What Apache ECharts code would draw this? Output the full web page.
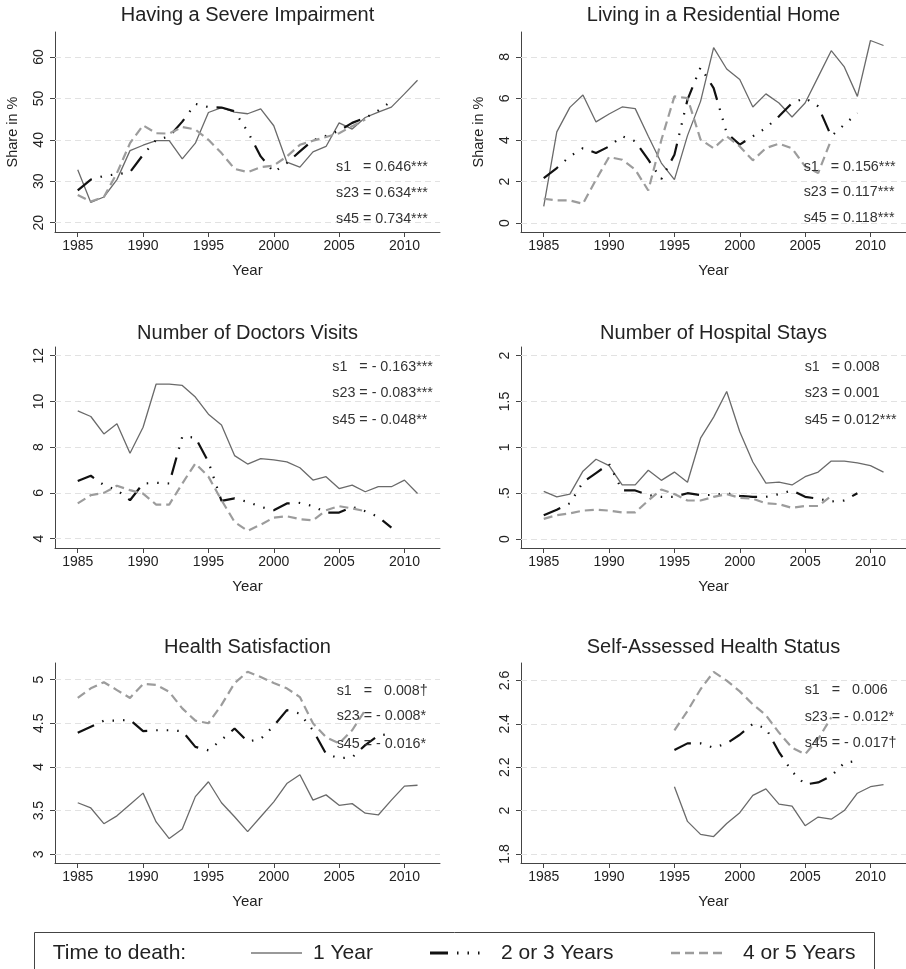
<!DOCTYPE html>
<html>
<head>
<meta charset="utf-8">
<script src="https://cdn.jsdelivr.net/npm/echarts@6/dist/echarts.min.js"></script>
<style>
  html, body { margin: 0; padding: 0; background: #fff; }
  #chart { width: 906px; height: 969px; }
</style>
</head>
<body>
<div id="chart"></div>
<script>
// ---- Data ---------------------------------------------------------------
const years = [1985, 1986, 1987, 1988, 1989, 1990, 1991, 1992, 1993, 1994, 1995, 1996, 1997, 1998,
               1999, 2000, 2001, 2002, 2003, 2004, 2005, 2006, 2007, 2008, 2009, 2010, 2011];
const yearsSAH = [1995, 1996, 1997, 1998, 1999, 2000, 2001, 2002, 2003, 2004, 2005, 2006, 2007,
                  2008, 2009, 2010, 2011];
const xTicks = [1985, 1990, 1995, 2000, 2005, 2010];

// Having a severe impairment (share in %)
const impair1  = [32.8, 24.9, 26.2, 30.4, 37.4, 38.7, 39.8, 39.8, 35.4, 39.2, 46.6, 47.8, 46.7, 46.3,
                  47.5, 43.4, 34.6, 33.4, 37.1, 38.4, 44.1, 42.6, 45.4, 46.7, 47.9, 51.1, 54.4];
const impair23 = [27.8, 30.4, 31.3, 31.7, 32.2, 36.4, 40.0, 40.8, 44.4, 48.7, 47.9, 47.8, 46.9, 42.0,
                  36.0, 32.2, 34.4, 37.2, 39.9, 41.0, 42.2, 44.1, 45.3, 47.1, 49.3];
const impair45 = [26.7, 25.1, 26.2, 32.0, 39.2, 43.5, 41.6, 41.5, 43.1, 42.5, 40.0, 36.8, 33.0, 32.2,
                  33.4, 33.8, 36.0, 38.8, 39.8, 40.7, 41.6, 43.3, 44.9];
const impairTicks = [20, 30, 40, 50, 60];
const impairNotes = ['s1   = 0.646***', 's23 = 0.634***', 's45 = 0.734***'];

// Living in a residential home (share in %)
const home1  = [0.8, 4.39, 5.57, 6.17, 4.87, 5.25, 5.59, 5.51, 4.18, 2.89, 2.09, 4.21, 5.86, 8.45,
                7.42, 6.91, 5.59, 6.22, 5.78, 5.11, 5.78, 7.04, 8.3, 7.52, 6.1, 8.79, 8.55];
const home23 = [2.17, 2.65, 3.21, 3.61, 3.37, 3.69, 4.18, 3.94, 3.05, 2.12, 3.29, 5.94, 7.5, 6.5,
                4.34, 3.78, 4.18, 4.58, 5.14, 5.78, 6.02, 5.62, 4.18, 4.74, 5.30];
const home45 = [1.17, 1.09, 1.09, 0.93, 2.09, 3.18, 3.05, 2.57, 1.57, 4.0, 6.1, 6.02, 4.02, 3.6,
                4.18, 3.69, 3.02, 3.61, 3.82, 3.6, 2.73, 2.41, 4.02];
const homeTicks = [0, 2, 4, 6, 8];
const homeNotes = ['s1   = 0.156***', 's23 = 0.117***', 's45 = 0.118***'];

// Number of doctors visits
const doc1  = [9.59, 9.34, 8.58, 9.02, 7.73, 8.87, 10.76, 10.76, 10.70, 10.19, 9.44, 8.97, 7.63, 7.26,
               7.5, 7.44, 7.36, 7.1, 6.56, 6.71, 6.19, 6.34, 6.05, 6.27, 6.27, 6.56, 5.97];
const doc23 = [6.52, 6.75, 6.34, 6.12, 5.68, 6.41, 6.44, 6.41, 8.46, 8.42, 7.36, 5.65, 5.76, 5.61,
               5.39, 5.24, 5.54, 5.56, 5.42, 5.14, 5.14, 5.39, 5.2, 4.95, 4.48];
const doc45 = [5.54, 5.90, 6.0, 6.31, 6.12, 5.97, 5.49, 5.49, 6.41, 7.29, 6.71, 5.68, 4.73, 4.34,
               4.61, 4.92, 4.98, 4.85, 4.8, 5.24, 5.42, 5.32, 5.2];
const docTicks = [4, 6, 8, 10, 12];
const docNotes = ['s1   = - 0.163***', 's23 = - 0.083***', 's45 = - 0.048**'];

// Number of hospital stays
const hosp1  = [0.52, 0.46, 0.49, 0.74, 0.87, 0.80, 0.59, 0.59, 0.75, 0.64, 0.73, 0.62, 1.10, 1.33,
                1.61, 1.17, 0.84, 0.61, 0.62, 0.59, 0.68, 0.73, 0.85, 0.85, 0.83, 0.80, 0.73];
const hosp23 = [0.26, 0.32, 0.39, 0.62, 0.72, 0.82, 0.53, 0.53, 0.48, 0.46, 0.46, 0.50, 0.48, 0.48,
                0.50, 0.47, 0.46, 0.46, 0.49, 0.53, 0.46, 0.44, 0.41, 0.42, 0.50];
const hosp45 = [0.22, 0.26, 0.28, 0.31, 0.32, 0.31, 0.29, 0.29, 0.42, 0.54, 0.49, 0.42, 0.42, 0.46,
                0.49, 0.45, 0.44, 0.39, 0.38, 0.34, 0.36, 0.36, 0.47];
const hospTicks = [0, 0.5, 1, 1.5, 2];
const hospNotes = ['s1   = 0.008', 's23 = 0.001', 's45 = 0.012***'];

// Health satisfaction
const satis1  = [3.59, 3.53, 3.35, 3.44, 3.57, 3.70, 3.37, 3.18, 3.29, 3.66, 3.83, 3.59, 3.43, 3.26,
                 3.43, 3.60, 3.81, 3.91, 3.62, 3.68, 3.56, 3.58, 3.47, 3.45, 3.62, 3.78, 3.79];
const satis23 = [4.39, 4.46, 4.53, 4.53, 4.54, 4.41, 4.42, 4.42, 4.41, 4.23, 4.19, 4.31, 4.44, 4.29,
                 4.32, 4.47, 4.65, 4.61, 4.42, 4.15, 4.10, 4.11, 4.25, 4.36, 4.38];
const satis45 = [4.79, 4.90, 4.97, 4.88, 4.79, 4.95, 4.94, 4.86, 4.67, 4.53, 4.50, 4.71, 4.96, 5.09,
                 5.03, 4.96, 4.90, 4.80, 4.50, 4.34, 4.27, 4.42, 4.65];
const satisTicks = [3, 3.5, 4, 4.5, 5];
const satisNotes = ['s1   =   0.008\u2020', 's23 = - 0.008*', 's45 = - 0.016*'];

// Self-assessed health status (from 1995)
const sah1  = [2.11, 1.95, 1.89, 1.88, 1.94, 1.99, 2.07, 2.10, 2.03, 2.02, 1.93, 1.97, 1.96, 2.00,
               2.08, 2.11, 2.12];
const sah23 = [2.28, 2.31, 2.31, 2.29, 2.31, 2.35, 2.40, 2.38, 2.27, 2.18, 2.12, 2.13, 2.16, 2.22, 2.23];
const sah45 = [2.37, 2.46, 2.56, 2.64, 2.60, 2.55, 2.49, 2.44, 2.36, 2.29, 2.26, 2.33, 2.43];
const sahTicks = [1.8, 2, 2.2, 2.4, 2.6];
const sahNotes = ['s1   =   0.006', 's23 = - 0.012*', 's45 = - 0.017\u2020'];

const groupNames = ['1 Year', '2 or 3 Years', '4 or 5 Years'];

// ---- Layout and styling -------------------------------------------------
const FONT = "'Liberation Sans', Arial, Helvetica, sans-serif";
const TEXT = '#222';
const AXIS = '#444';
const X_RANGE = [1983.26, 2012.72];

const lineStyles = [
  { color: '#6a6a6a', width: 1.3, type: 'solid' },
  { color: '#111111', width: 2.2, type: [18, 9, 1.5, 9, 1.5, 9, 1.5, 9], cap: 'butt' },
  { color: '#9c9c9c', width: 2.2, type: [9, 5], cap: 'butt' }
];

const panels = [
  { title: 'Having a Severe Impairment', x: years, series: [impair1, impair23, impair45],
    ticks: impairTicks, range: [17.75, 66.04], yName: 'Share in %', notes: impairNotes,
    grid: { left: 55, top: 32, height: 200 }, titleY: 15.5, noteX: 336, noteY: [166.7, 193.3, 219] },
  { title: 'Living in a Residential Home', x: years, series: [home1, home23, home45],
    ticks: homeTicks, range: [-0.43, 9.2], yName: 'Share in %', notes: homeNotes,
    grid: { left: 521, top: 32, height: 200 }, titleY: 15.5, noteX: 803.7, noteY: [166.7, 192.3, 218.3] },
  { title: 'Number of Doctors Visits', x: years, series: [doc1, doc23, doc45],
    ticks: docTicks, range: [3.59, 12.38], yName: '', notes: docNotes,
    grid: { left: 55, top: 347, height: 201 }, titleY: 333, noteX: 332.3, noteY: [366.7, 392.7, 420] },
  { title: 'Number of Hospital Stays', x: years, series: [hosp1, hosp23, hosp45],
    ticks: hospTicks, range: [-0.098, 2.095], yName: '', notes: hospNotes,
    grid: { left: 521, top: 347, height: 201 }, titleY: 333, noteX: 804.7, noteY: [367.3, 393.3, 420] },
  { title: 'Health Satisfaction', x: years, series: [satis1, satis23, satis45],
    ticks: satisTicks, range: [2.90, 5.19], yName: '', notes: satisNotes,
    grid: { left: 55, top: 663, height: 200 }, titleY: 647, noteX: 336.7, noteY: [690.7, 715.7, 744] },
  { title: 'Self-Assessed Health Status', x: yearsSAH, series: [sah1, sah23, sah45],
    ticks: sahTicks, range: [1.758, 2.681], yName: '', notes: sahNotes,
    grid: { left: 521, top: 663, height: 200 }, titleY: 647.3, noteX: 804.7, noteY: [690.3, 716.7, 742.7] }
];
const GRID_W = 385;

function tickLabel(v) {
  return v === 0 ? '0' : String(v).replace(/^0\./, '.');
}
function yearLabel(v) {
  return String(Math.round(v));
}

const grids = [], xAxes = [], yAxes = [], series = [], graphics = [];

panels.forEach((p, i) => {
  grids.push({ left: p.grid.left, top: p.grid.top, width: GRID_W, height: p.grid.height, containLabel: false });

  xAxes.push({
    gridIndex: i, type: 'value', min: X_RANGE[0], max: X_RANGE[1],
    name: 'Year', nameLocation: 'middle', nameGap: 31,
    nameTextStyle: { fontSize: 15, color: TEXT, fontFamily: FONT },
    axisLine: { show: true, onZero: false, lineStyle: { color: AXIS, width: 1 } },
    axisTick: { show: true, length: 5, customValues: xTicks, lineStyle: { color: AXIS, width: 1 } },
    axisLabel: { customValues: xTicks, margin: 7, fontSize: 14, color: TEXT, fontFamily: FONT,
                 formatter: yearLabel },
    splitLine: { show: false }
  });

  yAxes.push({
    gridIndex: i, type: 'value', min: p.range[0], max: p.range[1],
    name: p.yName, nameLocation: 'middle', nameGap: 35,
    nameTextStyle: { fontSize: 14.5, color: TEXT, fontFamily: FONT },
    axisLine: { show: true, onZero: false, lineStyle: { color: AXIS, width: 1 } },
    axisTick: { show: true, length: 5, customValues: p.ticks, lineStyle: { color: AXIS, width: 1 } },
    axisLabel: { customValues: p.ticks, rotate: 90, margin: 9, fontSize: 14, color: TEXT,
                 fontFamily: FONT, formatter: tickLabel },
    splitLine: { show: false }
  });

  p.series.forEach((vals, k) => {
    const s = {
      type: 'line', name: groupNames[k], xAxisIndex: i, yAxisIndex: i,
      data: vals.map((v, j) => [p.x[j], v]),
      showSymbol: false, symbol: 'none', smooth: false, z: 3 + k,
      lineStyle: lineStyles[k], emphasis: { disabled: true }, silent: true
    };
    if (k === 0) {
      // dashed horizontal reference lines at the labelled y values
      s.markLine = {
        silent: true, symbol: ['none', 'none'], z: 1, animation: false,
        label: { show: false }, emphasis: { disabled: true },
        lineStyle: { color: '#e2e2e2', type: [6, 4], width: 1 },
        data: p.ticks.map(v => ({ yAxis: v }))
      };
    }
    series.push(s);
  });

  graphics.push({
    type: 'text', x: p.grid.left + GRID_W / 2, y: p.titleY, silent: true,
    style: { text: p.title, fill: TEXT, font: '20px ' + FONT, align: 'center', verticalAlign: 'middle' }
  });
  p.notes.forEach((t, k) => {
    graphics.push({
      type: 'text', x: p.noteX, y: p.noteY[k], silent: true, z: 10,
      style: { text: t, fill: '#333', font: '14.3px ' + FONT, align: 'left', verticalAlign: 'middle' }
    });
  });
});

// Legend box along the bottom edge
const LEG_Y = 953;
graphics.push(
  { type: 'rect', silent: true, shape: { x: 34.5, y: 932.5, width: 840, height: 60 },
    style: { fill: 'none', stroke: '#444', lineWidth: 1 } },
  { type: 'text', x: 52.7, y: LEG_Y, silent: true,
    style: { text: 'Time to death:', fill: TEXT, font: '21px ' + FONT, verticalAlign: 'middle' } },
  { type: 'line', silent: true, shape: { x1: 251, y1: LEG_Y, x2: 302, y2: LEG_Y },
    style: { stroke: '#777', lineWidth: 1.6 } },
  { type: 'text', x: 313, y: LEG_Y, silent: true,
    style: { text: groupNames[0], fill: TEXT, font: '21px ' + FONT, verticalAlign: 'middle' } },
  { type: 'line', silent: true, shape: { x1: 430, y1: LEG_Y, x2: 482, y2: LEG_Y },
    style: { stroke: '#111', lineWidth: 3, lineDash: [18, 9, 1.5, 9, 1.5, 9, 1.5, 9], lineCap: 'butt' } },
  { type: 'text', x: 501, y: LEG_Y, silent: true,
    style: { text: groupNames[1], fill: TEXT, font: '21px ' + FONT, verticalAlign: 'middle' } },
  { type: 'line', silent: true, shape: { x1: 671, y1: LEG_Y, x2: 722, y2: LEG_Y },
    style: { stroke: '#9c9c9c', lineWidth: 2.6, lineDash: [9, 5], lineCap: 'butt' } },
  { type: 'text', x: 743, y: LEG_Y, silent: true,
    style: { text: groupNames[2], fill: TEXT, font: '21px ' + FONT, verticalAlign: 'middle' } }
);

const chart = echarts.init(document.getElementById('chart'), null, { renderer: 'canvas' });
chart.setOption({
  backgroundColor: '#ffffff',
  animation: false,
  textStyle: { fontFamily: FONT },
  grid: grids,
  xAxis: xAxes,
  yAxis: yAxes,
  series: series,
  graphic: graphics,
  tooltip: { show: false }
});
</script>
</body>
</html>
